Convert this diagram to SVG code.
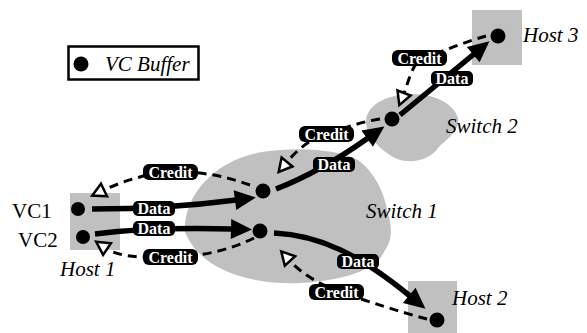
<svg xmlns="http://www.w3.org/2000/svg" width="587" height="333" viewBox="0 0 587 333">
  <defs>
    <marker id="solidHead" markerUnits="userSpaceOnUse" markerWidth="22" markerHeight="22" viewBox="0 0 22 22" refX="1" refY="11" orient="auto" overflow="visible">
      <path d="M0,1 L21,11 L0,21 z" fill="#000" stroke="none"/>
    </marker>
    <marker id="openHead" markerUnits="userSpaceOnUse" markerWidth="16" markerHeight="16" viewBox="0 0 16 16" refX="0" refY="8" orient="auto" overflow="visible">
      <path d="M0,1 L13,8 L0,15 z" fill="#fff" stroke="#000" stroke-width="2.5"/>
    </marker>
  </defs>
  <rect width="587" height="333" fill="#fff"/>

  <!-- legend -->
  <g id="legend">
    <rect x="68.5" y="46.5" width="130" height="33" fill="#fff" stroke="#000" stroke-width="2.5"/>
    <circle cx="81" cy="64" r="7.5" fill="#000"/>
    <text x="105" y="71" font-size="21" font-family="Liberation Serif" font-style="italic">VC Buffer</text>
  </g>

  <!-- switches and hosts -->
  <g id="switch1">
    <path fill="#c0c0c0" d="M185,232 C183,195 215,160 262,152 C300,146 340,150 358,160 C372,170 384,190 387,210 C392,225 393,240 385,250 C378,268 350,280 300,283 C250,285 200,270 185,232 Z"/>
    <circle cx="263" cy="191" r="7.5" fill="#000"/>
    <circle cx="260" cy="231" r="7.5" fill="#000"/>
    <text x="366" y="218" font-size="21" font-family="Liberation Serif" font-style="italic">Switch 1</text>
  </g>
  <g id="switch2">
    <path fill="#c0c0c0" d="M366,120 C368,105 385,95 410,94 C435,93 455,105 458,118 C460,132 445,140 438,148 C430,160 410,165 395,158 C380,150 365,135 366,120 Z"/>
    <circle cx="392" cy="119" r="7.5" fill="#000"/>
    <text x="446" y="133" font-size="21" font-family="Liberation Serif" font-style="italic">Switch 2</text>
  </g>
  <g id="host1">
    <rect x="70" y="193" width="50" height="57" fill="#c0c0c0"/>
    <circle cx="78" cy="209" r="7" fill="#000"/>
    <circle cx="83" cy="237" r="7" fill="#000"/>
    <text x="12" y="218" font-size="21" font-family="Liberation Serif">VC1</text>
    <text x="18" y="247" font-size="21" font-family="Liberation Serif">VC2</text>
    <text x="60" y="276" font-size="21" font-family="Liberation Serif" font-style="italic">Host 1</text>
  </g>
  <g id="host2">
    <rect x="408" y="281" width="49" height="52" fill="#c0c0c0"/>
    <circle cx="437" cy="320" r="7.5" fill="#000"/>
    <text x="452" y="305" font-size="21" font-family="Liberation Serif" font-style="italic">Host 2</text>
  </g>
  <g id="host3">
    <rect x="472" y="10" width="50" height="55" fill="#c0c0c0"/>
    <circle cx="498" cy="36" r="7.5" fill="#000"/>
    <text x="523" y="42" font-size="21" font-family="Liberation Serif" font-style="italic">Host 3</text>
  </g>

  <!-- data paths (solid) and credit returns (dashed) -->
  <g id="connectors" fill="none" stroke="#000">
    <g stroke-width="5.5">
      <path marker-end="url(#solidHead)" d="M92,209 C140,209 190,206 236,200"/>
      <path marker-end="url(#solidHead)" d="M95,234 Q150,227 232,229"/>
      <path marker-end="url(#solidHead)" d="M276,189 Q320,172 368,138"/>
      <path marker-end="url(#solidHead)" d="M400,115 L474,54"/>
      <path marker-end="url(#solidHead)" d="M274,233 C320,235 360,255 410,296"/>
    </g>
    <g stroke-width="3" stroke-dasharray="9 6">
      <path marker-end="url(#openHead)" d="M250,185 C225,176 200,171 170,172 C150,173 125,180 104,190"/>
      <path marker-end="url(#openHead)" d="M254,238 C230,250 200,257 170,257 C145,258 119,257 107,249"/>
      <path marker-end="url(#openHead)" d="M380,119 C360,122 345,128 325,134 C310,139 297,150 287,162"/>
      <path marker-end="url(#openHead)" d="M486,36 C465,42 440,52 420,60 C412,66 409,80 404,93"/>
      <path marker-end="url(#openHead)" d="M427,319 C400,312 370,302 340,292 C318,284 300,272 290,261"/>
    </g>
  </g>

  <!-- connector labels -->
  <g id="labels">
    <rect x="143" y="164" width="55" height="16" rx="6" fill="#000"/>
    <text x="170.5" y="177.5" fill="#fff" font-size="16" font-family="Liberation Serif" font-weight="bold" text-anchor="middle">Credit</text>
    <rect x="133" y="201" width="42" height="15" rx="5" fill="#000"/>
    <text x="154" y="214" fill="#fff" font-size="16" font-family="Liberation Serif" font-weight="bold" text-anchor="middle">Data</text>
    <rect x="133" y="221" width="42" height="15" rx="5" fill="#000"/>
    <text x="154" y="234" fill="#fff" font-size="16" font-family="Liberation Serif" font-weight="bold" text-anchor="middle">Data</text>
    <rect x="143" y="249" width="55" height="16" rx="6" fill="#000"/>
    <text x="170.5" y="262.5" fill="#fff" font-size="16" font-family="Liberation Serif" font-weight="bold" text-anchor="middle">Credit</text>
    <rect x="313" y="157" width="42" height="15" rx="5" fill="#000"/>
    <text x="334" y="170" fill="#fff" font-size="16" font-family="Liberation Serif" font-weight="bold" text-anchor="middle">Data</text>
    <rect x="299" y="126" width="55" height="16" rx="6" fill="#000"/>
    <text x="326.5" y="139.5" fill="#fff" font-size="16" font-family="Liberation Serif" font-weight="bold" text-anchor="middle">Credit</text>
    <rect x="392" y="50" width="55" height="16" rx="6" fill="#000"/>
    <text x="419.5" y="63.5" fill="#fff" font-size="16" font-family="Liberation Serif" font-weight="bold" text-anchor="middle">Credit</text>
    <rect x="431" y="71" width="42" height="15" rx="5" fill="#000"/>
    <text x="452" y="84" fill="#fff" font-size="16" font-family="Liberation Serif" font-weight="bold" text-anchor="middle">Data</text>
    <rect x="337" y="254" width="42" height="15" rx="5" fill="#000"/>
    <text x="358" y="267" fill="#fff" font-size="16" font-family="Liberation Serif" font-weight="bold" text-anchor="middle">Data</text>
    <rect x="309" y="284" width="55" height="16" rx="6" fill="#000"/>
    <text x="336.5" y="297.5" fill="#fff" font-size="16" font-family="Liberation Serif" font-weight="bold" text-anchor="middle">Credit</text>
  </g>
</svg>
